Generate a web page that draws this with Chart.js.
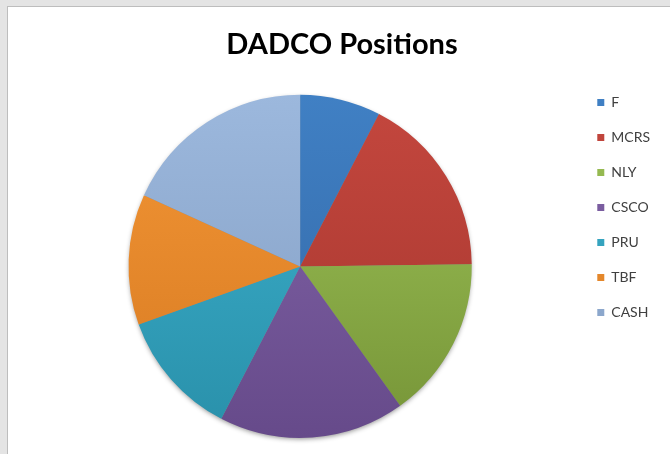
<!DOCTYPE html>
<html lang="en">
<head>
    <meta charset="UTF-8">
    <title>DADCO Positions</title>
    <script src="https://cdn.jsdelivr.net/npm/chart.js"></script>
    <style>
        html, body {
            margin: 0;
            padding: 0;
            width: 670px;
            height: 454px;
            overflow: hidden;
            background: #e4e4e4;
        }
        .frame {
            position: absolute;
            left: 7px;
            top: 6px;
            width: 700px;
            height: 500px;
            background: #fff;
            border: 1px solid #bdbdbd;
        }
        .wrap {
            position: absolute;
            left: 0;
            top: 0;
            width: 670px;
            height: 454px;
        }
    </style>
</head>
<body>
    <div class="frame"></div>
    <div class="wrap">
        <canvas id="positionsChart"></canvas>
    </div>
<script>
    // Données (parts du portefeuille, en %)
    const labels = ['F', 'MCRS', 'NLY', 'CSCO', 'PRU', 'TBF', 'CASH'];
    const values = [7.6, 17.2, 15.3, 17.5, 11.9, 12.3, 18.2];

    // couleurs : haut du camembert -> bas
    const topColors = ['#4080c4', '#c4473e', '#9ec458', '#8466aa', '#3eb2ce', '#f39636', '#9cb8dd'];
    const bottomColors = ['#3266a4', '#a5362e', '#769437', '#664a8a', '#2990aa', '#d77a21', '#829dc2'];

    function sliceColor(context) {
        const chart = context.chart;
        const area = chart.chartArea;
        const i = context.dataIndex;
        if (!area) return topColors[i];
        const g = chart.ctx.createLinearGradient(0, area.top, 0, area.bottom);
        g.addColorStop(0, topColors[i]);
        g.addColorStop(1, bottomColors[i]);
        return g;
    }

    // ombre douce sous le disque
    const pieShadow = {
        id: 'pieShadow',
        beforeDatasetsDraw(chart) {
            const arc = chart.getDatasetMeta(0).data[0];
            if (!arc) return;
            const ctx = chart.ctx;
            ctx.save();
            ctx.shadowColor = 'rgba(0,0,0,0.45)';
            ctx.shadowBlur = 5;
            ctx.shadowOffsetY = 2;
            ctx.fillStyle = '#888';
            ctx.beginPath();
            ctx.arc(arc.x, arc.y, arc.outerRadius - 1, 0, Math.PI * 2);
            ctx.fill();
            ctx.restore();
        }
    };

    new Chart(document.getElementById('positionsChart'), {
        type: 'pie',
        data: {
            labels: labels,
            datasets: [{
                data: values,
                backgroundColor: sliceColor,
                borderWidth: 0
            }]
        },
        options: {
            responsive: true,
            maintainAspectRatio: false,
            animation: false,
            layout: {
                padding: { left: 24, right: 10, top: 0, bottom: 16 }
            },
            plugins: {
                title: {
                    display: true,
                    text: 'DADCO Positions',
                    color: '#000',
                    font: { family: 'Lato', size: 29, weight: 'bold' },
                    padding: { top: 27, bottom: 33 }
                },
                legend: {
                    position: 'right',
                    align: 'start',
                    title: {
                        display: true,
                        text: '',
                        font: { size: 12 },
                        padding: { top: 60, bottom: 0 }
                    },
                    labels: {
                        boxWidth: 7,
                        boxHeight: 7,
                        padding: 21,
                        color: '#404040',
                        font: { family: 'Lato', size: 14 }
                    }
                },
                tooltip: { enabled: false }
            }
        },
        plugins: [pieShadow]
    });
</script>
</body>
</html>
